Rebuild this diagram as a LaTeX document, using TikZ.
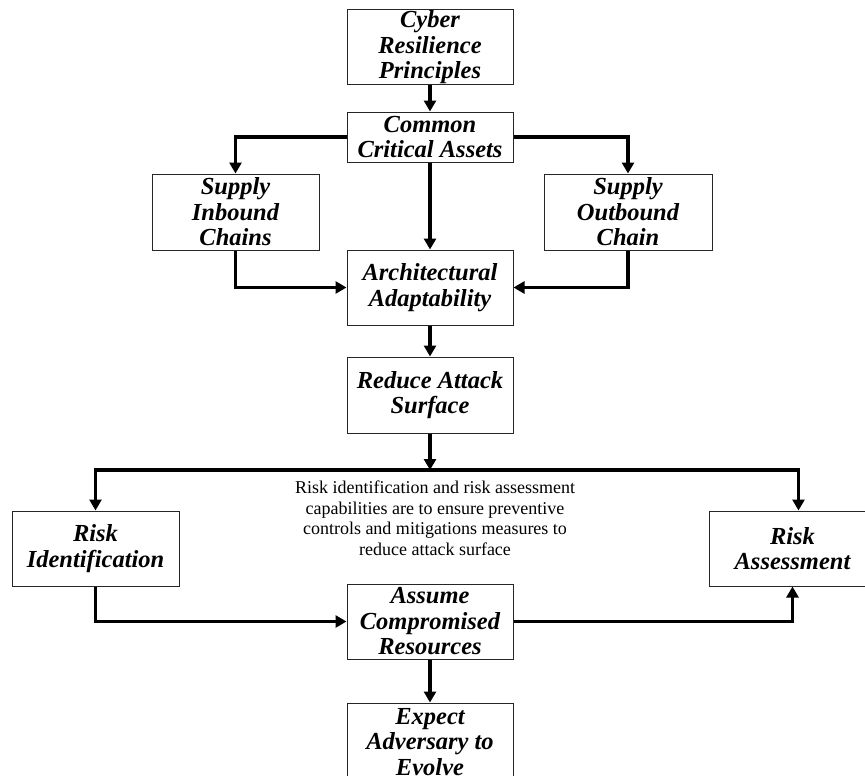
\documentclass[tikz,border=0pt]{standalone}
\usepackage{fontspec}
\setmainfont{Liberation Serif}
\usetikzlibrary{arrows.meta}
\begin{document}
\begin{tikzpicture}[x=1pt,y=-1pt,
  box/.style={draw=black!85, line width=1pt, inner sep=0pt, align=center,
    minimum width=166pt, minimum height=75pt,
    font=\fontsize{24.5}{25.5}\selectfont\bfseries\itshape},
  conn/.style={line width=3.1pt, -{Triangle[length=11pt,width=12pt]}},
  note/.style={align=center, inner sep=0pt, font=\fontsize{18}{20.5}\selectfont}]
\useasboundingbox (0,0) rectangle (865,776);
\node[box] (cyber) at (430,47.5) {Cyber\\Resilience\\Principles};
\node[box, minimum height=50pt] (common) at (430,137) {Common\\Critical Assets};
\node[box, minimum width=167pt, minimum height=76pt] (inbound) at (235.5,212) {Supply\\Inbound\\Chains};
\node[box, minimum width=168pt, minimum height=76pt] (outbound) at (628,212) {Supply\\Outbound\\Chain};
\node[box] (arch) at (430,287.5) {Architectural\\Adaptability};
\node[box, minimum height=76pt] (reduce) at (430,395) {Reduce Attack\\Surface};
\coordinate (split) at (430,470);
\node[box, minimum width=167pt] (riskid) at (95.5,548.5) {Risk\\Identification};
\node[box, minimum width=167pt] (riskas) at (792.5,548.5) {Risk\\Assessment};
\node[note] (txt) at (435,518) {Risk identification and risk assessment\\capabilities are to ensure preventive\\controls and mitigations measures to\\reduce attack surface};
\node[box] (assume) at (430,621.5) {Assume\\Compromised\\Resources};
\node[box, minimum height=78pt] (expect) at (430,742) {Expect\\Adversary to\\Evolve};
\draw[conn] (cyber.south) -- (common.north);
\draw[conn] (common.west) -| (inbound.north);
\draw[conn] (common.east) -| (outbound.north);
\draw[conn] (common.south) -- (arch.north);
\draw[conn] (inbound.south) |- (arch.west);
\draw[conn] (outbound.south) |- (arch.east);
\draw[conn] (arch.south) -- (reduce.north);
\draw[conn] (reduce.south) -- (split);
\draw[conn] (split) -| (riskid.north);
\draw[conn] (split) -| ([xshift=6pt]riskas.north);
\draw[conn] (riskid.south) |- (assume.west);
\draw[conn] (assume.east) -| (riskas.south);
\draw[conn] (assume.south) -- (expect.north);
\end{tikzpicture}
\end{document}
